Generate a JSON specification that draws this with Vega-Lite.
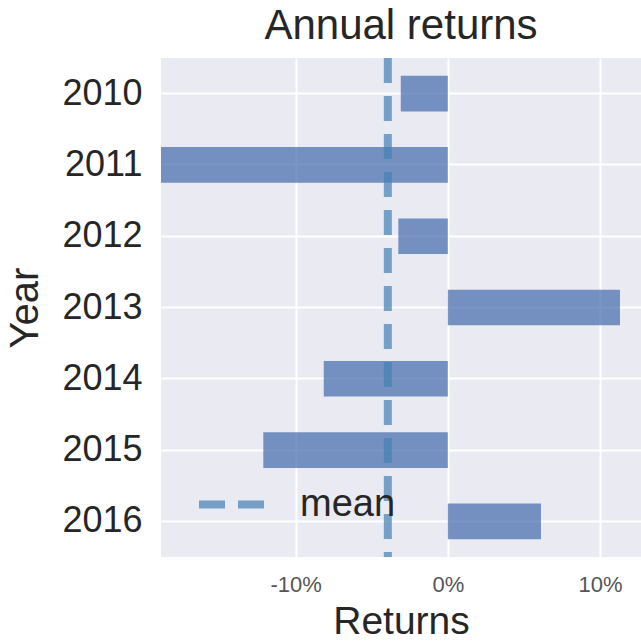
{
  "$schema": "https://vega.github.io/schema/vega-lite/v6.json",
  "width": 480,
  "height": 499,
  "autosize": {"type": "none"},
  "padding": {"left": 161, "top": 58, "right": 0, "bottom": 85},
  "title": {"text": "Annual returns", "fontSize": 42, "font": "Liberation Sans", "fontWeight": "normal", "color": "#262626", "offset": 6, "anchor": "middle"},
  "datasets": {
    "bars": [
      {"Year": "2010", "Returns": -3.09},
      {"Year": "2011", "Returns": -19.0},
      {"Year": "2012", "Returns": -3.25},
      {"Year": "2013", "Returns": 11.31},
      {"Year": "2014", "Returns": -8.15},
      {"Year": "2015", "Returns": -12.12},
      {"Year": "2016", "Returns": 6.12}
    ],
    "mean": [
      {"label": "mean", "value": -3.94}
    ]
  },
  "layer": [
    {
      "data": {"name": "bars"},
      "mark": {"type": "bar", "color": "#4C72B0", "opacity": 0.75, "clip": true},
      "encoding": {
        "y": {
          "field": "Year", "type": "nominal", "sort": null,
          "scale": {"paddingInner": 0.5, "paddingOuter": 0.25},
          "axis": {"title": "Year", "titleFontSize": 40, "titleFontWeight": "normal", "titleColor": "#262626", "titlePadding": 16,
                   "labelFontSize": 36, "labelColor": "#262626", "labelPadding": 19, "ticks": false, "domain": false,
                   "grid": true, "gridColor": "white", "gridWidth": 2, "bandPosition": 0.5}
        },
        "x": {
          "field": "Returns", "type": "quantitative",
          "scale": {"domain": [-18.84, 12.69], "nice": false, "zero": false},
          "axis": {"title": "Returns", "titleFontSize": 39, "titleFontWeight": "normal", "titleColor": "#262626", "titlePadding": 7,
                   "values": [-10, 0, 10], "labelExpr": "datum.value + '%'", "labelFontSize": 22, "labelColor": "#555555", "labelPadding": 17,
                   "ticks": false, "domain": false, "grid": true, "gridColor": "white", "gridWidth": 2}
        }
      }
    },
    {
      "mark": {"type": "rule", "color": "black", "strokeWidth": 5},
      "encoding": {"x": {"datum": 0, "type": "quantitative"}}
    },
    {
      "data": {"name": "mean"},
      "mark": {"type": "rule", "strokeWidth": 8, "strokeDash": [25, 13], "opacity": 0.72},
      "encoding": {
        "x": {"field": "value", "type": "quantitative"},
        "color": {
          "field": "label", "type": "nominal",
          "scale": {"range": ["steelblue"]},
          "legend": {"orient": "none", "legendX": 34, "legendY": 409, "title": null, "padding": 0,
                     "symbolType": "stroke", "symbolSize": 4489, "symbolStrokeWidth": 8, "symbolDash": [26, 13],
                     "symbolOpacity": 0.72, "labelFontSize": 38, "labelColor": "#262626", "labelOffset": 30, "labelLimit": 300}
        }
      }
    }
  ],
  "config": {
    "view": {"fill": "#EAEAF2", "stroke": null},
    "font": "Liberation Sans"
  }
}
